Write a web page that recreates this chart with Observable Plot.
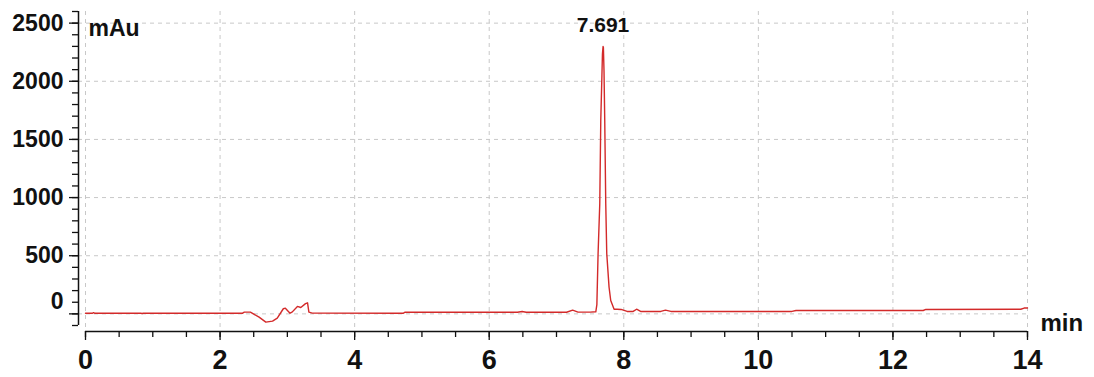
<!DOCTYPE html>
<html><head><meta charset="utf-8">
<script src="https://cdn.jsdelivr.net/npm/d3@7"></script>
<script src="https://cdn.jsdelivr.net/npm/@observablehq/plot@0.6"></script>
<style>
  html,body{margin:0;padding:0;background:#fff}
  svg{display:block}
  svg text{font-weight:bold !important}
</style>
</head><body><div id="chart"></div>
<script>
// Retention time (min) and absorbance (mAu)
const times = [0, 0.10, 0.12, 0.14, 0.82, 0.84, 0.86, 2.33, 2.36, 2.45, 2.58, 2.68, 2.78, 2.85, 2.94, 2.97, 3.04, 3.07, 3.15, 3.20, 3.27, 3.30, 3.32, 3.37,
  4.72, 4.75, 6.42, 6.49, 6.55, 7.15, 7.24, 7.32, 7.50, 7.584, 7.60, 7.618, 7.643, 7.658, 7.675, 7.683, 7.692, 7.697, 7.706, 7.717, 7.732, 7.747, 7.781, 7.806, 7.856,
  7.90, 7.96, 8.05, 8.14, 8.19, 8.25, 8.55, 8.62, 8.70, 10.50, 10.56, 12.45, 12.49, 13.90, 13.95, 14.0];
const signal = [5, 5, 10, 5, 5, 3, 5, 5, 15, 15, -28, -71, -62, -37, 44, 49, 6, 15, 64, 55, 88, 95, 15, 6,
  5, 14, 14, 20, 14, 14, 32, 15, 15, 18, 80, 517, 947, 1663, 2050, 2236, 2299, 2290, 2093, 1663, 947, 517, 230, 115, 40,
  40, 38, 21, 21, 40, 21, 21, 32, 21, 21, 29, 29, 38, 40, 50, 50];

const peakTime = [7.691];
const peakValue = [2299];
const peakLabel = ["7.691"];

const xTicks = [0, 2, 4, 6, 8, 10, 12, 14];
const xMinorTicks = d3.range(0, 14.01, 0.5);
const yTicks = [0, 500, 1000, 1500, 2000, 2500];
const yMinorTicks = d3.range(-100, 2601, 100);
const yUnit = "mAu";
const xUnit = "min";

const data = times.map((t, i) => ({t, v: signal[i]}));
const peaks = peakTime.map((t, i) => ({t, v: peakValue[i], label: peakLabel[i]}));

const FONT = "'Liberation Sans', Arial, Helvetica, sans-serif";
const fmt = d => String(d);

const chart = Plot.plot({
  width: 1094,
  height: 377,
  marginLeft: 78,
  marginRight: 67,
  marginTop: 11,
  marginBottom: 46,
  style: {fontFamily: FONT, fontWeight: "bold", color: "#111", background: "#fff"},
  x: {domain: [0, 14], insetLeft: 7, label: null},
  y: {domain: [-100, 2600], insetBottom: 6, label: null},
  marks: [
    Plot.gridX(xTicks, {stroke: "#c8c8c8", strokeOpacity: 1, strokeDasharray: "4,4"}),
    Plot.gridY(yTicks, {stroke: "#c8c8c8", strokeOpacity: 1, strokeDasharray: "4,4"}),
    // axis lines
    Plot.ruleY([-100], {x1: 0, x2: 14, dy: 6, stroke: "#111", strokeWidth: 1.5}),
    Plot.ruleX([0], {y1: -100, y2: 2600, dx: -7, stroke: "#111", strokeWidth: 1.5}),
    // x ticks
    Plot.axisX(xMinorTicks, {tickSize: 6, tickFormat: () => "", label: null, stroke: "#111", strokeWidth: 1.3}),
    Plot.axisX(xTicks, {tickSize: 9, tickPadding: 9, fontSize: 27, label: null, stroke: "#111", strokeWidth: 1.3, tickFormat: fmt}),
    // y ticks
    Plot.axisY(yMinorTicks, {tickSize: 6, tickFormat: () => "", label: null, stroke: "#111", strokeWidth: 1.3}),
    Plot.axisY(yTicks.filter(d => d !== 0), {tickSize: 9, tickPadding: 6, fontSize: 23, label: null, stroke: "#111", strokeWidth: 1.3, tickFormat: fmt}),
    Plot.axisY([0], {tickSize: 9, tickFormat: () => "", label: null, stroke: "#111", strokeWidth: 1.3}),
    Plot.axisY([0], {tickSize: 0, tickPadding: 15, dy: -12, fontSize: 23, label: null, tickFormat: fmt}),
    // signal
    Plot.line(data, {x: "t", y: "v", stroke: "#d32a2a", strokeWidth: 1.4}),
    // peak label
    Plot.text(peaks, {x: "t", y: "v", text: "label", dy: -21, fontSize: 21, fill: "#111", letterSpacing: 1}),
    // units
    Plot.text([yUnit], {frameAnchor: "top-left", text: d => d, dx: 10, dy: 17, lineAnchor: "middle", textAnchor: "start", fontSize: 23, fill: "#111", letterSpacing: 2}),
    Plot.text([xUnit], {frameAnchor: "bottom-right", text: d => d, dx: 13, dy: -8, lineAnchor: "middle", textAnchor: "start", fontSize: 24, fill: "#111", letterSpacing: 1.5})
  ]
});
document.getElementById("chart").appendChild(chart);
</script>
</body></html>
